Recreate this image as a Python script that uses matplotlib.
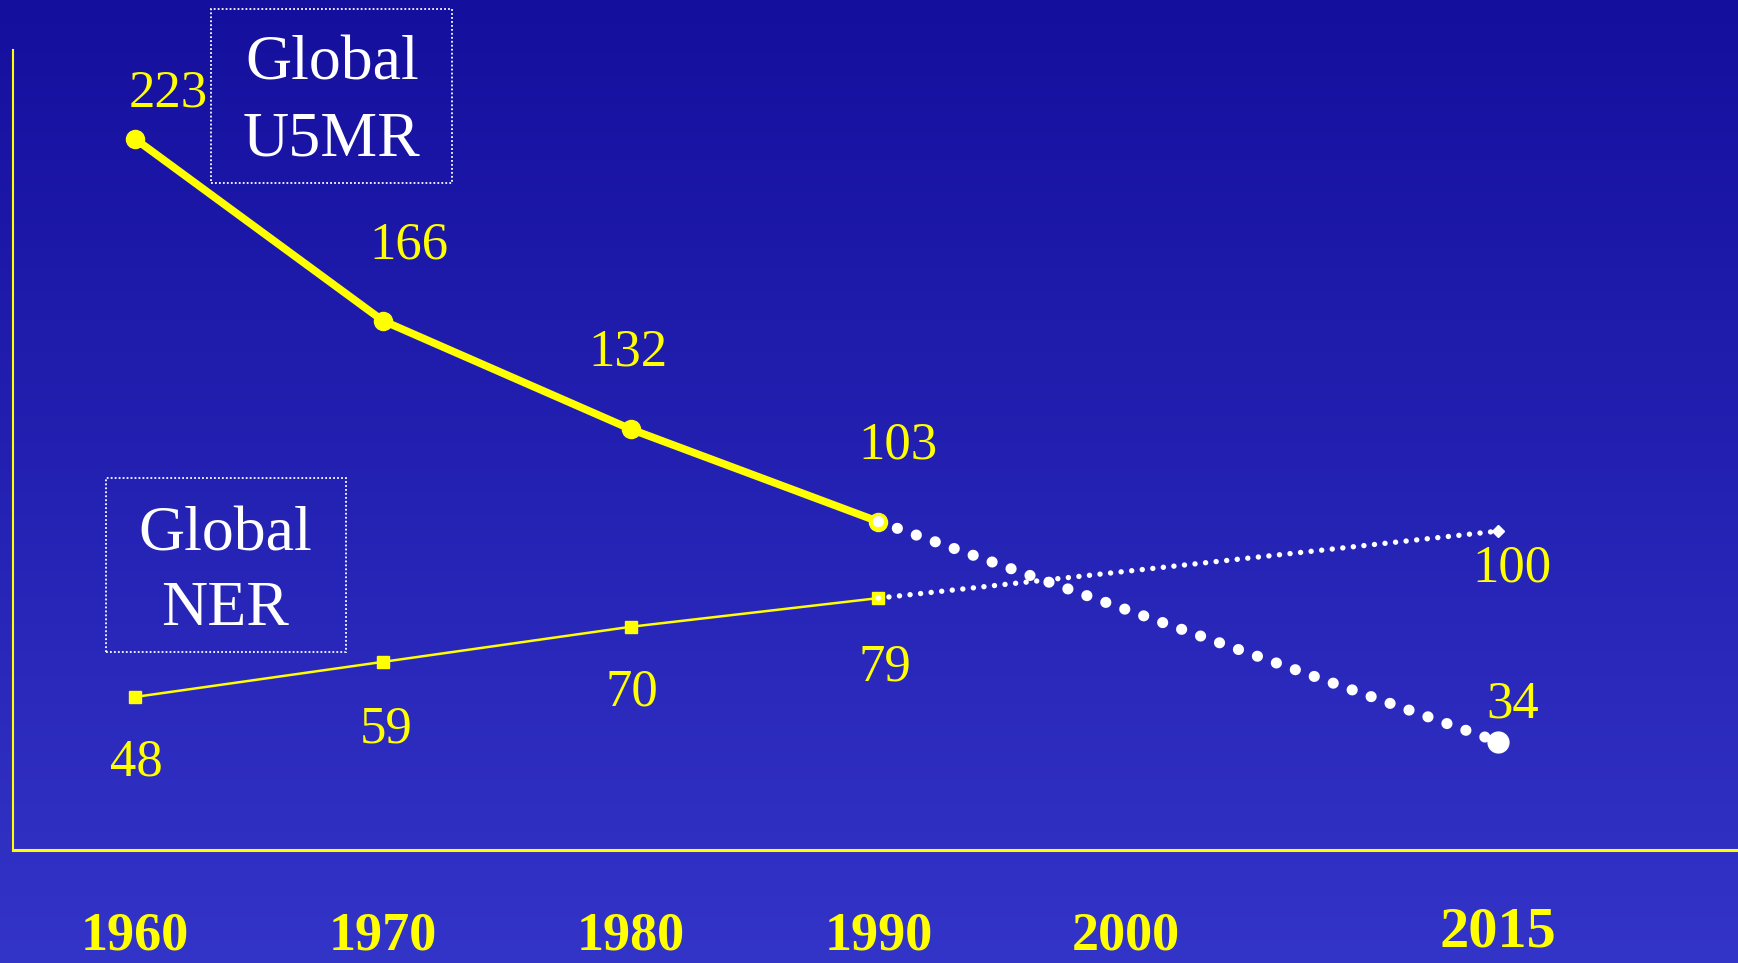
import numpy as np
import matplotlib
matplotlib.use("Agg")
import matplotlib.pyplot as plt
from matplotlib.colors import LinearSegmentedColormap

# ---- data ----
years_hist = [1960, 1970, 1980, 1990]
u5mr_hist = [223, 166, 132, 103]
ner_hist = [48, 59, 70, 79]
years_proj = [1990, 2015]
u5mr_proj = [103, 34]
ner_proj = [79, 100]
tick_years = [1960, 1970, 1980, 1990, 2000, 2015]
tick_labels = ["1960", "1970", "1980", "1990", "2000", "2015"]

W, H, DPI = 1738, 963, 100
fig = plt.figure(figsize=(W / DPI, H / DPI), dpi=DPI)

# background gradient
bg = fig.add_axes([0, 0, 1, 1], zorder=0)
cmap = LinearSegmentedColormap.from_list("bg", ["#150f9d", "#3334c8"])
grad = np.linspace(0, 1, 256).reshape(-1, 1)
bg.imshow(grad, aspect="auto", cmap=cmap, extent=[0, 1, 0, 1], origin="upper")
bg.set_axis_off()

YEL = "#ffff00"
SERIF = "Liberation Serif"

left_px, right_px, top_px, bot_px = 13, 1738, 50, 850
ax = fig.add_axes([left_px / W, (H - bot_px) / H, (right_px - left_px) / W, (bot_px - top_px) / H], zorder=1)
ax.set_facecolor("none")
ax.set_xlim(1955.07, 2024.7)
ax.set_ylim(0, 250.9)

for s in ["top", "right"]:
    ax.spines[s].set_visible(False)
ax.spines["left"].set_color(YEL)
ax.spines["left"].set_linewidth(1.5)
ax.spines["bottom"].set_color(YEL)
ax.spines["bottom"].set_linewidth(2.2)
ax.set_yticks([])
ax.set_xticks(tick_years)
ax.set_xticklabels([""] * len(tick_years))
ax.tick_params(axis="x", length=0)

# year labels (drawn as text under the axis)
xt = ax.get_xaxis_transform()
for yr, lab in zip(tick_years, tick_labels):
    big = lab == "2015"
    ax.text(yr, -0.1035 if big else -0.1085, lab, transform=xt, ha="center", va="center",
            fontsize=42 if big else 39, fontweight="bold", fontfamily=SERIF,
            color=YEL, clip_on=False)

# U5MR historic
ax.plot(years_hist, u5mr_hist, color=YEL, lw=5.5, solid_capstyle="round",
        solid_joinstyle="round", marker="o", ms=13, mfc=YEL, mec=YEL, zorder=3)
# U5MR projection (dotted white)
ax.plot(years_proj, u5mr_proj, color="white", lw=8, linestyle=(0, (0.01, 1.8)),
        dash_capstyle="round", zorder=4)
ax.plot([years_proj[-1]], [u5mr_proj[-1]], "o", color="white", ms=15, zorder=5)

# NER historic
ax.plot(years_hist, ner_hist, color=YEL, lw=1.8, marker="s", ms=9,
        mfc=YEL, mec=YEL, zorder=3)
# NER projection
ax.plot(years_proj, ner_proj, color="white", lw=3.9, linestyle=(0, (0.01, 1.95)),
        dash_capstyle="round", zorder=4)
ax.plot([years_proj[-1]], [ner_proj[-1]], "D", color="white", ms=6, zorder=5)

# value labels (offsets in points)
u5_years = years_hist + [years_proj[-1]]
u5_vals = u5mr_hist + [u5mr_proj[-1]]
u5_off = [(24, 33), (19, 54), (-2, 55), (14, 55), (11, 27)]
for x, v, (dx, dy) in zip(u5_years, u5_vals, u5_off):
    ax.annotate(str(v), (x, v), xytext=(dx, dy), textcoords="offset points",
                ha="center", va="center", color=YEL, fontsize=38,
                fontfamily=SERIF, zorder=6)

ner_years = years_hist + [years_proj[-1]]
ner_vals = ner_hist + [ner_proj[-1]]
ner_off = [(1, -47), (2, -49), (1, -47), (5, -50), (10, -27)]
for x, v, (dx, dy) in zip(ner_years, ner_vals, ner_off):
    ax.annotate(str(v), (x, v), xytext=(dx, dy), textcoords="offset points",
                ha="center", va="center", color=YEL, fontsize=38,
                fontfamily=SERIF, zorder=6)

# series name boxes (figure pixel coords)
def name_box(x0, y0, x1, y1, lines):
    rect = plt.Rectangle((x0 / W, 1 - y1 / H), (x1 - x0) / W, (y1 - y0) / H,
                         transform=fig.transFigure, fill=False, edgecolor="white",
                         lw=1.3, linestyle=(0, (1, 1.2)), zorder=7)
    fig.add_artist(rect)
    for (cx, cy, txt) in lines:
        fig.text(cx / W, 1 - cy / H, txt, ha="center", va="center", color="white",
                 fontsize=46, fontfamily=SERIF, zorder=8)

name_box(211, 9, 452, 183, [(332, 64, "Global"), (332, 141, "U5MR")])
name_box(106, 478, 346, 652, [(225, 535, "Global"), (225, 610, "NER")])

fig.savefig("out.png", dpi=DPI)
